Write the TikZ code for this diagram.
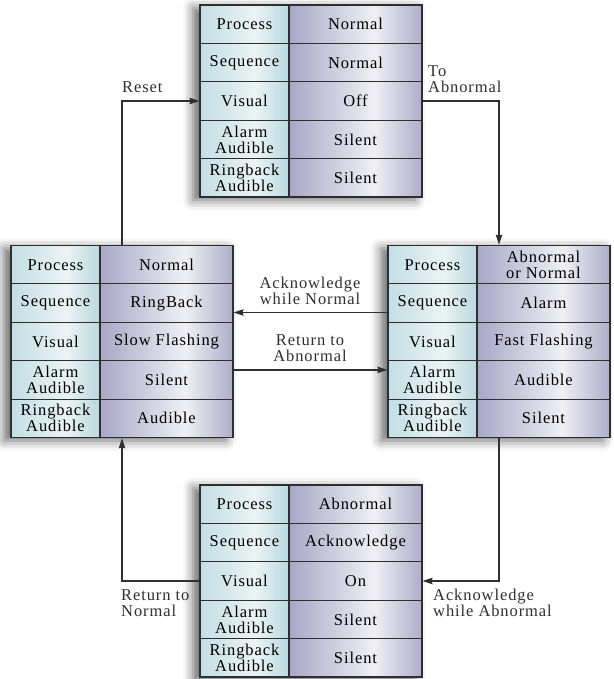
\documentclass[tikz,border=0pt]{standalone}
\usepackage{fontspec}
\setmainfont{Liberation Serif}[LetterSpace=5.5]
\usetikzlibrary{arrows.meta, shadows.blur}

\definecolor{keyleft}{HTML}{C2DEE4}
\definecolor{keymid}{HTML}{EBF3F4}
\definecolor{keyright}{HTML}{BAD8DE}
\definecolor{valleft}{HTML}{A8A7C7}
\definecolor{valmid}{HTML}{EFEFF4}
\definecolor{valright}{HTML}{AEADCA}
\definecolor{rule}{HTML}{2F2F2F}

\pgfdeclarehorizontalshading{keyshade}{100bp}{color(0bp)=(keyleft); color(25bp)=(keyleft); color(56bp)=(keymid); color(75bp)=(keyright); color(100bp)=(keyright)}
\pgfdeclarehorizontalshading{valshade}{100bp}{color(0bp)=(valleft); color(25bp)=(valleft); color(57bp)=(valmid); color(75bp)=(valright); color(100bp)=(valright)}

% one state: name, left x, top y, rows as key/value
\newcommand{\statetable}[4]{%
    \node[tableshadow] (#1-bg) at ({#2+111},{#3+96}) {};
    \foreach \key/\val [count=\i] in {#4} {
        \node[keycell] (#1-\i-k) at ({#2+44.5},{#3+19.2+38.4*(\i-1)}) {\key};
        \node[valcell] (#1-\i-v) at ({#2+155.5},{#3+19.2+38.4*(\i-1)}) {\val};
    }
    \node[tableframe] (#1) at ({#2+111},{#3+96}) {};
}

\begin{document}
\begin{tikzpicture}[x=1pt, y=-1pt, >={Stealth[length=10pt, width=6.5pt, inset=1pt]},
    txt/.style={font=\fontsize{16.5}{16}\selectfont, align=center, inner sep=0pt},
    keycell/.style={txt, draw=rule, line width=1.1pt, shading=keyshade, minimum width=89pt, minimum height=38.4pt},
    valcell/.style={txt, draw=rule, line width=1.1pt, shading=valshade, minimum width=133pt, minimum height=38.4pt},
    tableshadow/.style={fill=white, minimum width=222pt, minimum height=192pt, inner sep=0pt,
        blur shadow={shadow xshift=-7pt, shadow yshift=-3pt, shadow blur radius=10pt, shadow opacity=60}},
    tableframe/.style={draw=rule, line width=1.5pt, minimum width=222pt, minimum height=192pt, inner sep=0pt},
    flow/.style={->, draw=rule, line width=1.2pt},
    lbl/.style={txt, text=rule}]

    \useasboundingbox (0,0) rectangle (613,679);

    \statetable{top}{200}{5}{Process/Normal, Sequence/Normal, Visual/Off,
        Alarm\\Audible/Silent, Ringback\\Audible/Silent}
    \statetable{left}{11}{245.5}{Process/Normal, Sequence/RingBack, Visual/Slow Flashing,
        Alarm\\Audible/Silent, Ringback\\Audible/Audible}
    \statetable{right}{388}{245.5}{Process/Abnormal\\or Normal, Sequence/Alarm, Visual/Fast Flashing,
        Alarm\\Audible/Audible, Ringback\\Audible/Silent}
    \statetable{bottom}{200}{485}{Process/Abnormal, Sequence/Acknowledge, Visual/On,
        Alarm\\Audible/Silent, Ringback\\Audible/Silent}

    % transitions
    \draw[flow] (left.north) |- (top-3-k.west);
    \draw[flow] (top-3-v.east) -| (right.north);
    \draw[flow] ([yshift=-9.4pt]right-2-k.west) -- ([yshift=-9.4pt]left-2-v.east);
    \draw[flow] ([yshift=10pt]left-4-v.east) -- ([yshift=10pt]right-4-k.west);
    \draw[flow] (right.south) |- (bottom-3-v.east);
    \draw[flow] (bottom-3-k.west) -| (left.south);

    \node[lbl, anchor=south west] (reset) at (122,93) {Reset};
    \node[lbl, anchor=south west, align=left] (toabn) at (428,93) {To\\Abnormal};
    \node[lbl, anchor=south] (acknorm) at (310,305) {Acknowledge\\while Normal};
    \node[lbl, anchor=south] (retabn) at (310,362) {Return to\\Abnormal};
    \node[lbl, anchor=south west, align=left] (retnorm) at (121,617) {Return to\\Normal};
    \node[lbl, anchor=south west, align=left] (ackabn) at (433,617) {Acknowledge\\while Abnormal};
\end{tikzpicture}
\end{document}
